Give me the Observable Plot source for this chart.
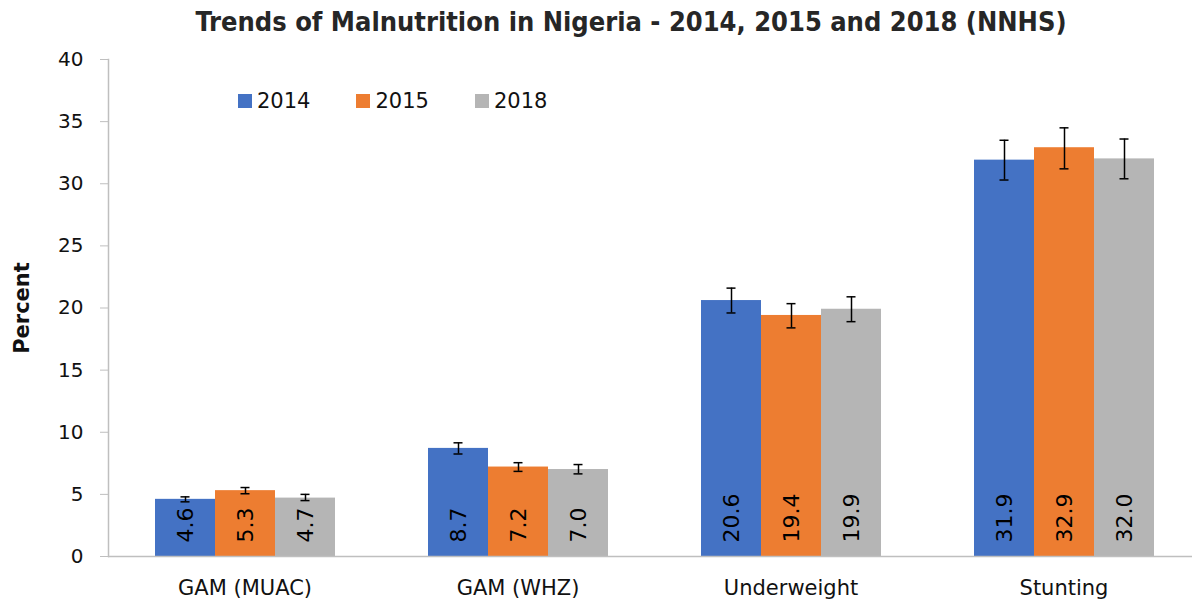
<!DOCTYPE html>
<html>
<head>
<meta charset="utf-8">
<script src="https://cdn.jsdelivr.net/npm/d3@7"></script>
<script src="https://cdn.jsdelivr.net/npm/@observablehq/plot@0.6"></script>
<style>
  html, body { margin: 0; padding: 0; background: #fff; }
  #wrap { position: relative; width: 1192px; height: 602px; overflow: hidden; font-family: "DejaVu Sans", sans-serif; }
  #title { height: 48px; position: relative; }
  #title span { position: absolute; left: 631px; top: 6px; transform: translateX(-50%); white-space: nowrap;
    font-family: "DejaVu Sans Condensed", "DejaVu Sans", sans-serif; font-stretch: condensed; font-weight: bold; font-size: 27px; line-height: 32px; color: #262626; }
  #legend { position: absolute; left: 238px; top: 89px; display: flex; font-size: 21px; color: #111; }
  #legend .item { display: flex; align-items: center; margin-right: 46px; }
  #legend .sw { width: 14px; height: 14px; margin-right: 5px; }
</style>
</head>
<body>
<div id="wrap">
  <div id="title"><span>Trends of Malnutrition in Nigeria - 2014, 2015 and 2018 (NNHS)</span></div>
  <div id="chart"></div>
  <div id="legend"></div>
</div>
<script>
const categories = ["GAM (MUAC)", "GAM (WHZ)", "Underweight", "Stunting"];
const years = ["2014", "2015", "2018"];
const colors = ["#4472C4", "#ED7D31", "#B5B5B5"];

const values2014 = [4.6, 8.7, 20.6, 31.9];
const values2015 = [5.3, 7.2, 19.4, 32.9];
const values2018 = [4.7, 7.0, 19.9, 32.0];

const lower2014 = [4.4, 8.25, 19.6, 30.3];
const upper2014 = [4.8, 9.15, 21.6, 33.5];
const lower2015 = [5.05, 6.85, 18.4, 31.2];
const upper2015 = [5.55, 7.55, 20.35, 34.5];
const lower2018 = [4.5, 6.65, 18.9, 30.4];
const upper2018 = [5.0, 7.4, 20.9, 33.6];

const yTicks = [0, 5, 10, 15, 20, 25, 30, 35, 40];

const series = [
  {year: "2014", values: values2014, lower: lower2014, upper: upper2014},
  {year: "2015", values: values2015, lower: lower2015, upper: upper2015},
  {year: "2018", values: values2018, lower: lower2018, upper: upper2018}
];
const data = [];
for (const s of series) {
  categories.forEach((c, i) => {
    data.push({category: c, year: s.year, value: s.values[i], lo: s.lower[i], hi: s.upper[i]});
  });
}

const chart = Plot.plot({
  width: 1192,
  height: 554,
  marginLeft: 108,
  marginRight: 0,
  marginTop: 11,
  marginBottom: 46,
  style: {fontFamily: "DejaVu Sans, sans-serif", fontSize: "20px", color: "#111", overflow: "visible"},
  fx: {domain: categories, range: [107.5, 1201], padding: 0, label: null},
  x: {domain: years, axis: null, paddingInner: 0, paddingOuter: 0.748},
  y: {domain: [0, 40], ticks: yTicks, label: "Percent", labelAnchor: "center", labelArrow: "none"},
  color: {domain: years, range: colors},
  marks: [
    Plot.barY(data, {fx: "category", x: "year", y: "value", fill: "year"}),
    Plot.ruleX(data, {fx: "category", x: "year", y1: "lo", y2: "hi", stroke: "#000", strokeWidth: 1.5}),
    Plot.tickY(data, {fx: "category", x: "year", y: "lo", stroke: "#000", strokeWidth: 1.5, insetLeft: 25.5, insetRight: 25.5}),
    Plot.tickY(data, {fx: "category", x: "year", y: "hi", stroke: "#000", strokeWidth: 1.5, insetLeft: 25.5, insetRight: 25.5}),
    Plot.text(data, {fx: "category", x: "year", y: () => 0, text: d => d.value.toFixed(1), rotate: -90, textAnchor: "start", lineAnchor: "middle", dy: -14, fontSize: 22, fill: "#000"}),
    Plot.ruleY([0], {stroke: "#BFBFBF", strokeWidth: 1.5}),
    Plot.axisY({ticks: yTicks, tickSize: 8, tickPadding: 17, stroke: "#BFBFBF", fontSize: 20, label: "Percent", labelAnchor: "center", labelArrow: "none", labelOffset: 94}),
    Plot.frame({anchor: "left", facetAnchor: "left", stroke: "#BFBFBF", strokeWidth: 1.5}),
    Plot.axisFx({anchor: "bottom", tickSize: 0, tickPadding: 24, fontSize: 21, label: null})
  ]
});
document.getElementById("chart").appendChild(chart);

// style the y-axis label bold
chart.querySelectorAll("text").forEach(t => {
  if (t.textContent === "Percent") { t.setAttribute("font-weight", "bold"); t.setAttribute("font-size", "21"); }
});

const legend = document.getElementById("legend");
years.forEach((y, i) => {
  const item = document.createElement("div");
  item.className = "item";
  item.innerHTML = `<div class="sw" style="background:${colors[i]}"></div><span>${y}</span>`;
  legend.appendChild(item);
});
</script>
</body>
</html>
